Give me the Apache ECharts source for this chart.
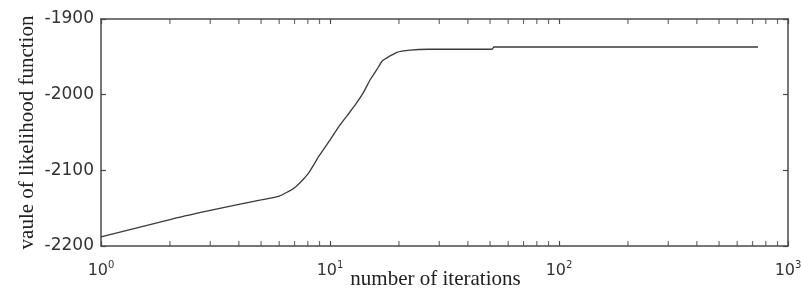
<!DOCTYPE html>
<html>
<head>
<meta charset="utf-8">
<script src="https://cdn.jsdelivr.net/npm/echarts@6/dist/echarts.min.js"></script>
<style>
html,body{margin:0;padding:0;background:#fff;}
#chart{width:801px;height:291px;}
</style>
</head>
<body>
<div id="chart"></div>
<script>
// ---- data ----
const iterations = [1, 2, 3, 4, 5, 6, 7, 8, 9, 10, 11, 12, 13, 14, 15, 16, 17, 19.6, 22.4, 27, 51, 52, 740];
const likelihood = [-2188, -2165, -2153, -2145, -2139, -2134, -2123, -2105, -2080, -2060, -2041, -2026, -2012, -1997, -1980, -1967, -1955, -1944, -1941, -1940, -1940, -1937, -1937];
const xMin = 1, xMax = 1000;
const yMin = -2200, yMax = -1900, yStep = 100;
const minorTicks = [2, 3, 4, 5, 6, 7, 8, 9, 20, 30, 40, 50, 60, 70, 80, 90, 200, 300, 400, 500, 600, 700, 800, 900];
const xTitle = 'number of iterations';
const yTitle = 'vaule of likelihood function';

const lineData = iterations.map((x, i) => [x, likelihood[i]]);
const bottomTicks = minorTicks.map(t => [t, yMin]);
const topTicks = minorTicks.map(t => [t, yMax]);

const axisCol = '#4a4a4a';
const chart = echarts.init(document.getElementById('chart'), null, {renderer: 'canvas'});
const xCommon = {
  type: 'log', logBase: 10, min: xMin, max: xMax,
  axisLine: {show: true, lineStyle: {color: axisCol, width: 1.5}},
  axisTick: {show: true, inside: true, length: 5, lineStyle: {color: axisCol, width: 1.2}},
  splitLine: {show: false}, minorTick: {show: false}, minorSplitLine: {show: false}
};
const yCommon = {
  type: 'value', min: yMin, max: yMax, interval: yStep,
  axisLine: {show: true, lineStyle: {color: axisCol, width: 1.5}},
  axisTick: {show: true, inside: true, length: 5, lineStyle: {color: axisCol, width: 1.2}},
  splitLine: {show: false}
};
chart.setOption({
  backgroundColor: '#fff',
  animation: false,
  grid: {left: 101, right: 13, top: 19, bottom: 45, containLabel: false, outerBoundsMode: 'none'},
  xAxis: [
    Object.assign({}, xCommon, {
      position: 'bottom',
      name: xTitle, nameLocation: 'middle', nameGap: 23, nameMoveOverlap: false,
      nameTextStyle: {fontFamily: 'Liberation Serif', fontSize: 21, color: '#222', padding: [0, 18, 0, 0]},
      axisLabel: {
        show: true, margin: 14,
        formatter: v => '{b|10}{s|' + Math.round(Math.log10(v)) + '}',
        rich: {
          b: {fontFamily: 'DejaVu Sans', fontSize: 16, color: '#333'},
          s: {fontFamily: 'DejaVu Sans', fontSize: 10, color: '#333', padding: [0, 0, 12, 0]}
        }
      }
    }),
    Object.assign({}, xCommon, {position: 'top', axisLabel: {show: false}})
  ],
  yAxis: [
    Object.assign({}, yCommon, {
      position: 'left',
      name: yTitle, nameLocation: 'middle', nameGap: 63, nameMoveOverlap: false,
      nameTextStyle: {fontFamily: 'Liberation Serif', fontSize: 21, color: '#222'},
      axisLabel: {show: true, margin: 7, fontFamily: 'DejaVu Sans', fontSize: 17, color: '#333',
        formatter: v => String(v)}
    }),
    Object.assign({}, yCommon, {position: 'right', axisLabel: {show: false}})
  ],
  series: [
    {
      type: 'line', data: lineData, xAxisIndex: 0, yAxisIndex: 0,
      showSymbol: false, smooth: 0.2,
      lineStyle: {color: '#3a3a3a', width: 1.3}
    },
    {
      type: 'scatter', data: bottomTicks, xAxisIndex: 0, yAxisIndex: 0,
      symbol: 'rect', symbolSize: [1.2, 5], symbolOffset: [0, -2.5],
      itemStyle: {color: axisCol}, silent: true
    },
    {
      type: 'scatter', data: topTicks, xAxisIndex: 0, yAxisIndex: 0,
      symbol: 'rect', symbolSize: [1.2, 5], symbolOffset: [0, 2.5],
      itemStyle: {color: axisCol}, silent: true
    }
  ]
});
</script>
</body>
</html>
